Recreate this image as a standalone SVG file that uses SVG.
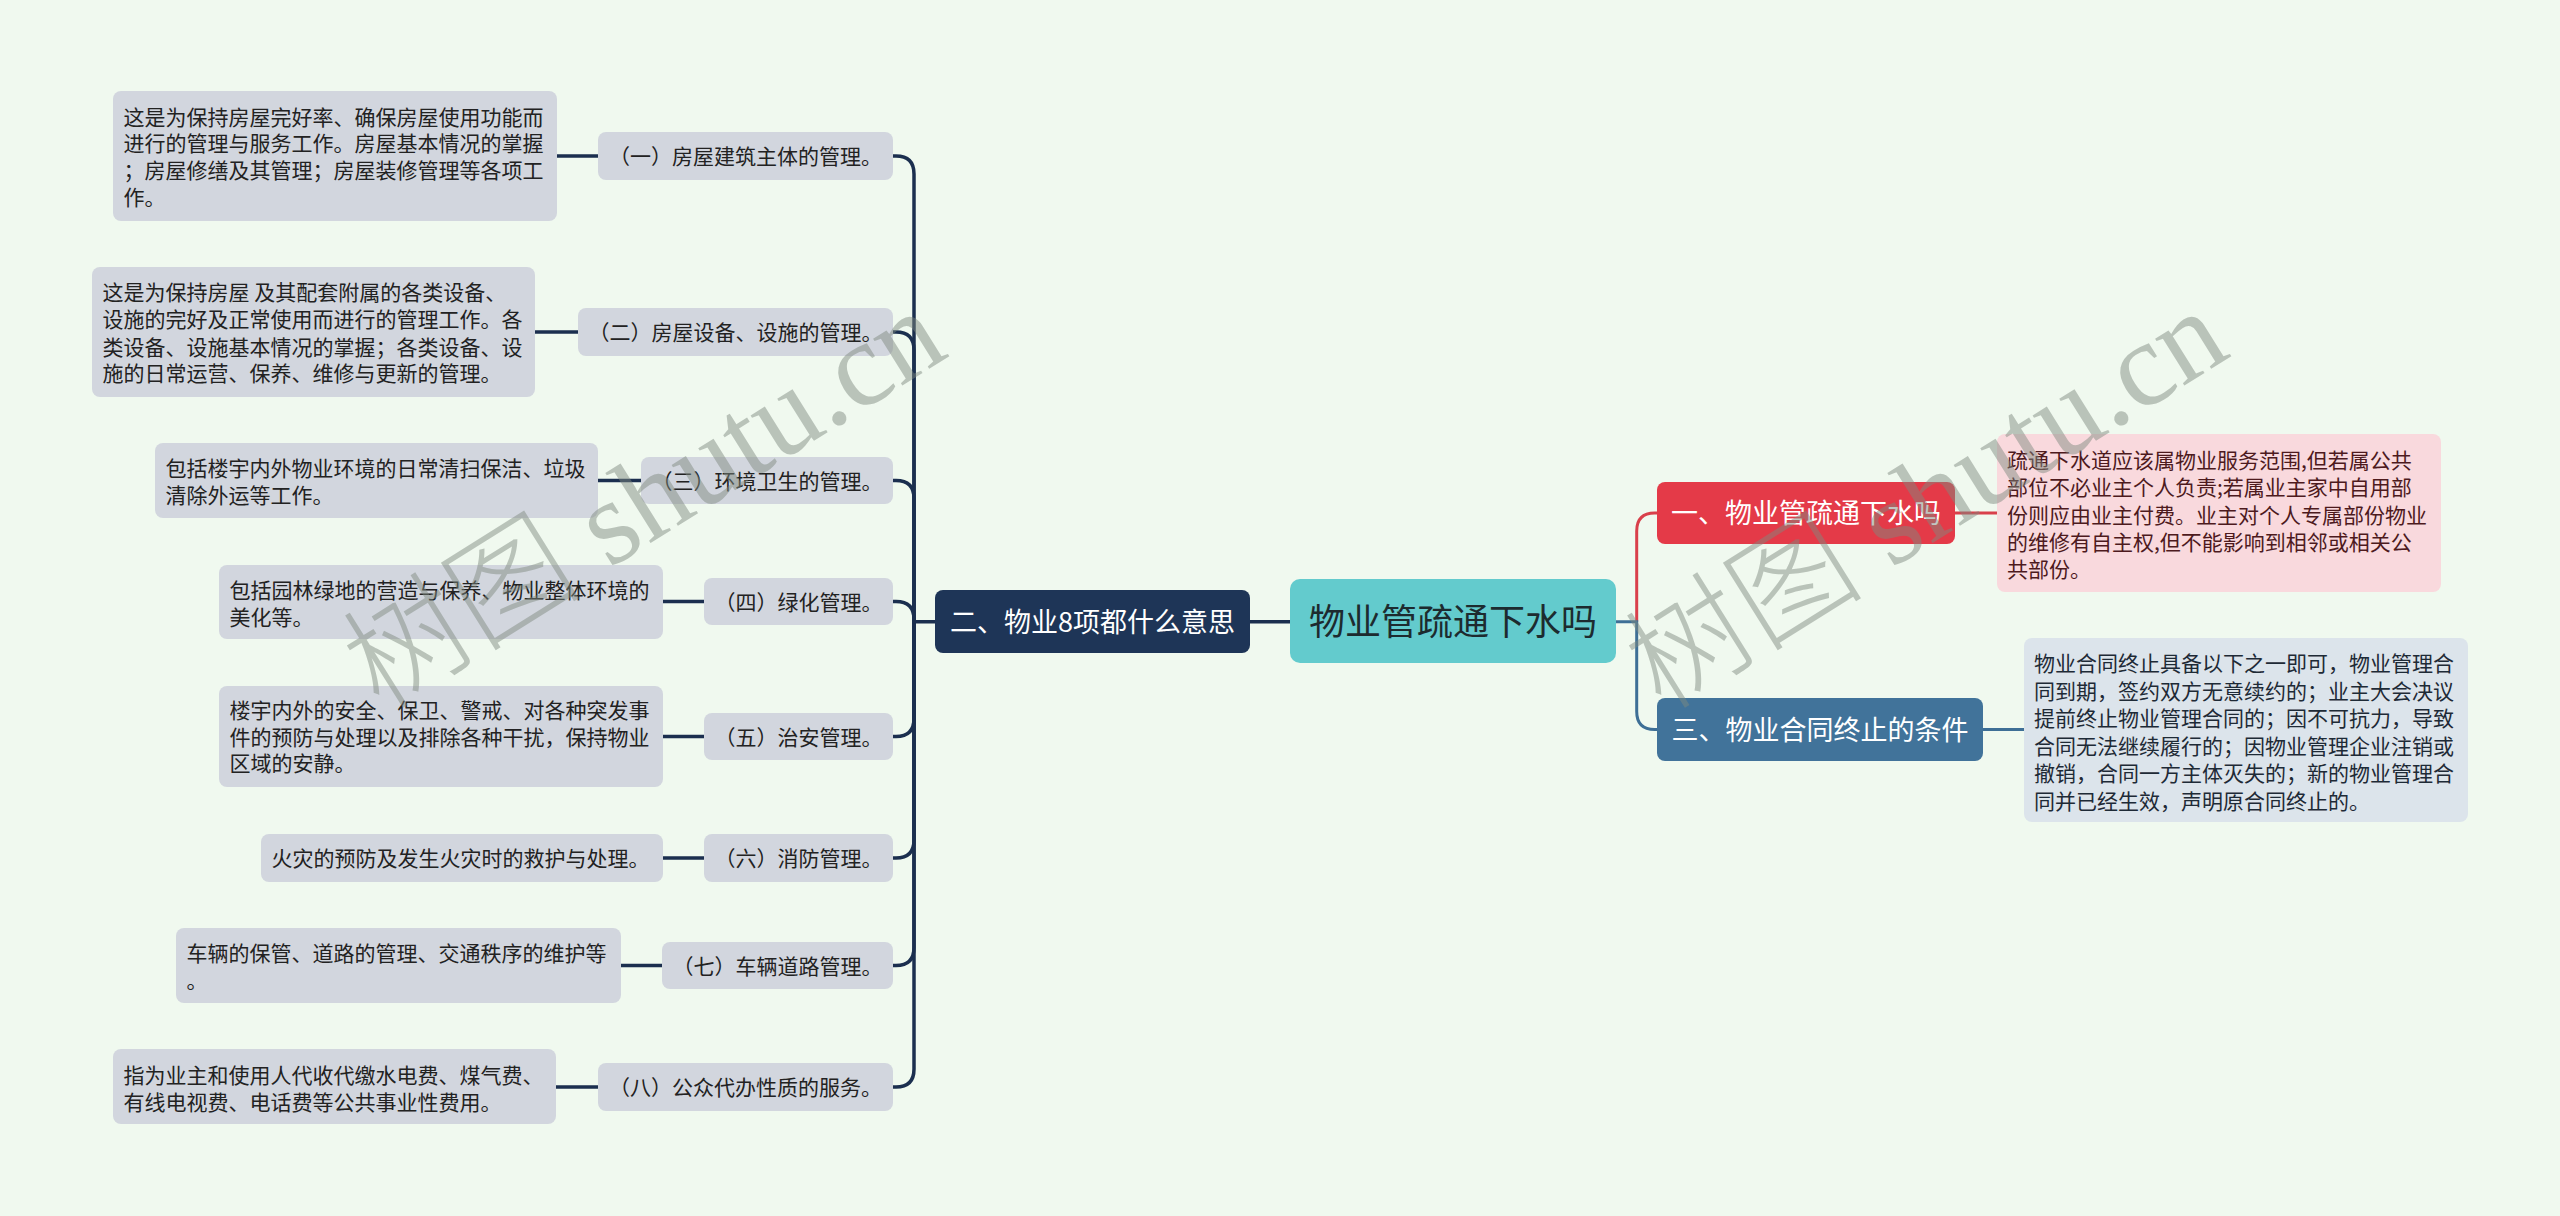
<svg xmlns="http://www.w3.org/2000/svg" width="2560" height="1216" viewBox="0 0 2560 1216">
<style>
text{font-family:"Noto Sans CJK SC","Noto Sans",sans-serif;}
.bg{fill:#f0f9ef;}
.gbox{fill:#d2d6de;}
.t21{font-size:21px;fill:#222;}
.sub{font-size:21px;fill:#222;text-anchor:middle;}
.big{font-size:27px;fill:#fff;text-anchor:middle;}
.nv{fill:none;stroke:#1b2f4f;stroke-width:3.5;stroke-linecap:round;}
.rd{fill:none;stroke:#d9404b;stroke-width:3;}
.bl{fill:none;stroke:#3e6f96;stroke-width:3;}
.wm{font-size:120px;fill:#7f8a80;opacity:0.48;}
</style>
<rect class="bg" x="0" y="0" width="2560" height="1216"/>

<g id="connectors">
  <path class="nv" d="M557,156 H598"/>
  <path class="nv" d="M535,332 H578"/>
  <path class="nv" d="M598,480.5 H641"/>
  <path class="nv" d="M663,601.5 H704"/>
  <path class="nv" d="M663,736.5 H704"/>
  <path class="nv" d="M663,858 H704"/>
  <path class="nv" d="M621,965.5 H662"/>
  <path class="nv" d="M556,1087 H598"/>
  <path class="nv" d="M893,156 H896 Q914,156 914,174 V621.7"/>
  <path class="nv" d="M893,332 H896 Q914,332 914,350 V621.7"/>
  <path class="nv" d="M893,480.5 H896 Q914,480.5 914,498.5 V621.7"/>
  <path class="nv" d="M893,601.5 H896 Q914,601.5 914,619.5 V621.7"/>
  <path class="nv" d="M893,736.5 H896 Q914,736.5 914,718.5 V621.7"/>
  <path class="nv" d="M893,858 H896 Q914,858 914,840 V621.7"/>
  <path class="nv" d="M893,965.5 H896 Q914,965.5 914,947.5 V621.7"/>
  <path class="nv" d="M893,1087 H896 Q914,1087 914,1069 V621.7"/>
  <path class="nv" d="M914,621.7 H935"/>
  <path class="nv" d="M1250,621.7 H1290"/>
  <path class="rd" d="M1636.7,621.7 V531 Q1636.7,513 1654.7,513 H1658"/>
  <path class="bl" d="M1616,621.7 H1636.7 V711.5 Q1636.7,729.5 1654.7,729.5 H1658"/>
  <path class="rd" d="M1955,513 H1997"/>
  <path class="bl" d="M1983,729.5 H2024"/>
</g>

<g id="root">
  <rect x="1290" y="579" width="326" height="84" rx="10" fill="#63cbcd"/>
  <text x="1453" y="635" style="font-size:36px;fill:#1d2b2f;text-anchor:middle;">物业管疏通下水吗</text>
</g>

<g id="n2">
  <rect x="935" y="590" width="315" height="63" rx="8" fill="#1e3557"/>
  <text class="big" x="1092.5" y="631.5">二、物业8项都什么意思</text>
</g>

<g id="n1">
  <rect x="1657" y="482" width="298" height="62" rx="8" fill="#e43a48"/>
  <text class="big" x="1806" y="523">一、物业管疏通下水吗</text>
</g>

<g id="n3">
  <rect x="1657" y="698" width="326" height="63" rx="8" fill="#41739a"/>
  <text class="big" x="1820" y="739.5">三、物业合同终止的条件</text>
</g>

<g id="n1-leaf">
  <rect x="1997" y="434" width="444" height="158" rx="8" fill="#f9d9dd"/>
  <text class="t21" style="fill:#4d1a1d" x="2007">
    <tspan x="2007" y="468">疏通下水道应该属物业服务范围,但若属公共</tspan>
    <tspan x="2007" y="495.3">部位不必业主个人负责;若属业主家中自用部</tspan>
    <tspan x="2007" y="522.6">份则应由业主付费。业主对个人专属部份物业</tspan>
    <tspan x="2007" y="550">的维修有自主权,但不能影响到相邻或相关公</tspan>
    <tspan x="2007" y="577.3">共部份。</tspan>
  </text>
</g>

<g id="n3-leaf">
  <rect x="2024" y="638" width="444" height="184" rx="8" fill="#dce4eb"/>
  <text class="t21" style="fill:#1e2a36">
    <tspan x="2034" y="671">物业合同终止具备以下之一即可，物业管理合</tspan>
    <tspan x="2034" y="698.5">同到期，签约双方无意续约的；业主大会决议</tspan>
    <tspan x="2034" y="726">提前终止物业管理合同的；因不可抗力，导致</tspan>
    <tspan x="2034" y="753.5">合同无法继续履行的；因物业管理企业注销或</tspan>
    <tspan x="2034" y="781">撤销，合同一方主体灭失的；新的物业管理合</tspan>
    <tspan x="2034" y="808.5">同并已经生效，声明原合同终止的。</tspan>
  </text>
</g>

<g id="s1">
  <rect class="gbox" x="598" y="132" width="295" height="48" rx="8"/>
  <text class="sub" x="745.5" y="164">（一）房屋建筑主体的管理。</text>
</g>
<g id="s1-leaf">
  <rect class="gbox" x="113" y="91" width="444" height="130" rx="8"/>
  <text class="t21">
    <tspan x="123.5" y="124.5">这是为保持房屋完好率、确保房屋使用功能而</tspan>
    <tspan x="123.5" y="151.3">进行的管理与服务工作。房屋基本情况的掌握</tspan>
    <tspan x="123.5" y="178">；房屋修缮及其管理；房屋装修管理等各项工</tspan>
    <tspan x="123.5" y="204.7">作。</tspan>
  </text>
</g>

<g id="s2">
  <rect class="gbox" x="578" y="308" width="315" height="48" rx="8"/>
  <text class="sub" x="735.5" y="340">（二）房屋设备、设施的管理。</text>
</g>
<g id="s2-leaf">
  <rect class="gbox" x="92" y="267" width="443" height="130" rx="8"/>
  <text class="t21">
    <tspan x="102.5" y="299.7">这是为保持房屋 及其配套附属的各类设备、</tspan>
    <tspan x="102.5" y="327">设施的完好及正常使用而进行的管理工作。各</tspan>
    <tspan x="102.5" y="354.5">类设备、设施基本情况的掌握；各类设备、设</tspan>
    <tspan x="102.5" y="381.3">施的日常运营、保养、维修与更新的管理。</tspan>
  </text>
</g>

<g id="s3">
  <rect class="gbox" x="641" y="457" width="252" height="47" rx="8"/>
  <text class="sub" x="767" y="488.5">（三）环境卫生的管理。</text>
</g>
<g id="s3-leaf">
  <rect class="gbox" x="155" y="443" width="443" height="75" rx="8"/>
  <text class="t21">
    <tspan x="165.5" y="476">包括楼宇内外物业环境的日常清扫保洁、垃圾</tspan>
    <tspan x="165.5" y="503">清除外运等工作。</tspan>
  </text>
</g>

<g id="s4">
  <rect class="gbox" x="704" y="578" width="189" height="47" rx="8"/>
  <text class="sub" x="798.5" y="609.5">（四）绿化管理。</text>
</g>
<g id="s4-leaf">
  <rect class="gbox" x="219" y="565" width="444" height="74" rx="8"/>
  <text class="t21">
    <tspan x="229.5" y="597.5">包括园林绿地的营造与保养、物业整体环境的</tspan>
    <tspan x="229.5" y="624.5">美化等。</tspan>
  </text>
</g>

<g id="s5">
  <rect class="gbox" x="704" y="713" width="189" height="47" rx="8"/>
  <text class="sub" x="798.5" y="744.5">（五）治安管理。</text>
</g>
<g id="s5-leaf">
  <rect class="gbox" x="219" y="686" width="444" height="101" rx="8"/>
  <text class="t21">
    <tspan x="229.5" y="718">楼宇内外的安全、保卫、警戒、对各种突发事</tspan>
    <tspan x="229.5" y="744.7">件的预防与处理以及排除各种干扰，保持物业</tspan>
    <tspan x="229.5" y="771.4">区域的安静。</tspan>
  </text>
</g>

<g id="s6">
  <rect class="gbox" x="704" y="834" width="189" height="48" rx="8"/>
  <text class="sub" x="798.5" y="866">（六）消防管理。</text>
</g>
<g id="s6-leaf">
  <rect class="gbox" x="261" y="834" width="402" height="48" rx="8"/>
  <text class="t21" x="271.5" y="866">火灾的预防及发生火灾时的救护与处理。</text>
</g>

<g id="s7">
  <rect class="gbox" x="662" y="942" width="231" height="47" rx="8"/>
  <text class="sub" x="777.5" y="973.5">（七）车辆道路管理。</text>
</g>
<g id="s7-leaf">
  <rect class="gbox" x="176" y="928" width="445" height="75" rx="8"/>
  <text class="t21">
    <tspan x="186.5" y="961">车辆的保管、道路的管理、交通秩序的维护等</tspan>
    <tspan x="186.5" y="988">。</tspan>
  </text>
</g>

<g id="s8">
  <rect class="gbox" x="598" y="1063" width="295" height="48" rx="8"/>
  <text class="sub" x="745.5" y="1095">（八）公众代办性质的服务。</text>
</g>
<g id="s8-leaf">
  <rect class="gbox" x="113" y="1049" width="443" height="75" rx="8"/>
  <text class="t21">
    <tspan x="123.5" y="1083">指为业主和使用人代收代缴水电费、煤气费、</tspan>
    <tspan x="123.5" y="1110">有线电视费、电话费等公共事业性费用。</tspan>
  </text>
</g>

<g id="watermark">
  <text class="wm" transform="translate(380,712) rotate(-32)"><tspan style="font-family:'Noto Sans CJK SC',sans-serif;font-weight:300">树图</tspan><tspan style="font-family:'Liberation Serif',serif"> shutu.cn</tspan></text>
  <text class="wm" transform="translate(1662,712) rotate(-32)"><tspan style="font-family:'Noto Sans CJK SC',sans-serif;font-weight:300">树图</tspan><tspan style="font-family:'Liberation Serif',serif"> shutu.cn</tspan></text>
</g>
</svg>
